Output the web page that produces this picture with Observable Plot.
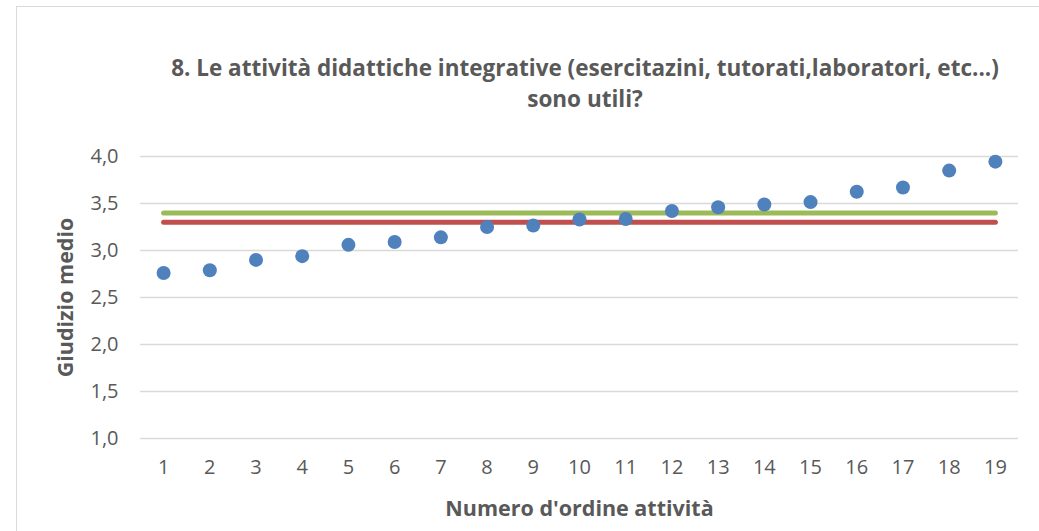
<!DOCTYPE html>
<html>
<head>
<meta charset="utf-8">
<script src="https://cdn.jsdelivr.net/npm/d3@7"></script>
<script src="https://cdn.jsdelivr.net/npm/@observablehq/plot@0.6"></script>
<style>
  html, body { margin: 0; padding: 0; background: #fff; width: 1039px; height: 531px; overflow: hidden; }
  #frame { position: absolute; left: 16px; top: 6px; width: 1100px; height: 600px; border: 1px solid #d9d9d9; box-sizing: border-box; }
  #title { position: absolute; top: 52px; text-align: center; font-family: "Open Sans", Lato, sans-serif; font-weight: bold; font-size: 22.5px; line-height: 31px; color: #595959; }
  #chart { position: absolute; left: 0; top: 0; }
</style>
</head>
<body>
<div id="frame"></div>
<div id="chart"></div>
<div id="title" style="left:60px;width:1050px;">8. Le attività didattiche integrative (esercitazini, tutorati,laboratori, etc...)<br>sono utili?</div>
<script>
const activities = [1,2,3,4,5,6,7,8,9,10,11,12,13,14,15,16,17,18,19];
const meanScores = [2.76,2.79,2.90,2.94,3.06,3.09,3.14,3.25,3.265,3.33,3.335,3.42,3.46,3.49,3.515,3.625,3.67,3.85,3.945];
const greenRef = 3.40;
const redRef = 3.30;
const yTicks = [1.0,1.5,2.0,2.5,3.0,3.5,4.0];

const points = activities.map((a, i) => ({activity: a, score: meanScores[i]}));
const greenLine = [{activity: activities[0], score: greenRef}, {activity: activities[activities.length - 1], score: greenRef}];
const redLine = [{activity: activities[0], score: redRef}, {activity: activities[activities.length - 1], score: redRef}];

const plot = Plot.plot({
  width: 1039,
  height: 531,
  marginTop: 156,
  marginLeft: 140,
  marginRight: 21,
  marginBottom: 93,
  style: {fontFamily: "'Open Sans', Lato, sans-serif", fontSize: "20px", color: "#595959", background: "transparent", overflow: "visible"},
  x: {domain: [0.5, 19.5], label: null},
  y: {domain: [1, 4], label: null},
  marks: [
    Plot.gridY(yTicks, {stroke: "#d9d9d9", strokeOpacity: 1, strokeWidth: 1.5}),
    Plot.axisX({ticks: activities, tickSize: 0, tickPadding: 21, tickFormat: d => String(d), fontSize: 20, label: null}),
    Plot.axisY({ticks: yTicks, tickSize: 0, tickPadding: 22, tickFormat: d => d.toFixed(1).replace(".", ","), fontSize: 20, label: null}),
    Plot.line(greenLine, {x: "activity", y: "score", stroke: "#9bbb59", strokeWidth: 5, strokeLinecap: "round"}),
    Plot.line(redLine, {x: "activity", y: "score", stroke: "#c0504d", strokeWidth: 5, strokeLinecap: "round"}),
    Plot.dot(points, {x: "activity", y: "score", r: 7, fill: "#4f81bd", stroke: "none"}),
    Plot.text(["Numero d'ordine attività"], {frameAnchor: "bottom", dy: 77, fontWeight: "bold", fontSize: 21.5, fill: "#595959"}),
    Plot.text(["Giudizio medio"], {frameAnchor: "left", textAnchor: "middle", lineAnchor: "middle", dx: -74, rotate: -90, fontWeight: "bold", fontSize: 21.5, fill: "#595959"})
  ]
});
document.getElementById("chart").appendChild(plot);
</script>
</body>
</html>
